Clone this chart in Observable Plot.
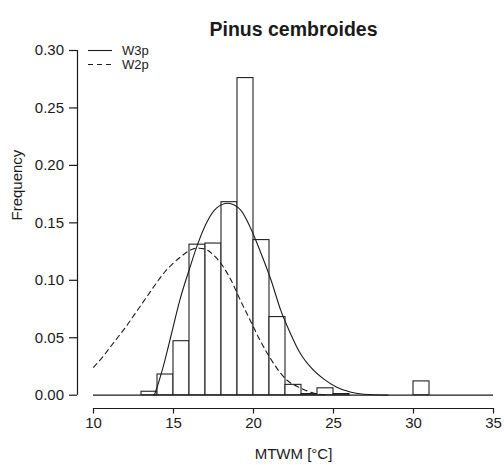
<!DOCTYPE html>
<html>
<head>
<meta charset="utf-8">
<script src="https://cdn.jsdelivr.net/npm/d3@7"></script>
<script src="https://cdn.jsdelivr.net/npm/@observablehq/plot@0.6"></script>
<style>
  html, body { margin: 0; padding: 0; background: #fff; }
  #chart { width: 504px; height: 465px; }
</style>
</head>
<body>
<div id="chart"></div>
<script>
const title = "Pinus cembroides";
const xLabel = "MTWM [°C]";
const yLabel = "Frequency";
const xTicks = [10, 15, 20, 25, 30, 35];
const yTicks = [0, 0.05, 0.10, 0.15, 0.20, 0.25, 0.30];

// Histogram bins (1 °C wide), left edges and relative frequencies
const binStart = [13, 14, 15, 16, 17, 18, 19, 20, 21, 22, 23, 24, 25, 26, 27, 28, 29, 30];
const binFreq  = [0.003, 0.018, 0.047, 0.131, 0.132, 0.168, 0.276, 0.135, 0.068, 0.009, 0.001, 0.006, 0.001, 0, 0, 0, 0, 0.012];

// W3p (solid) fitted curve
const w3pX = [13.8, 14.0, 14.4, 14.9, 15.4, 16.0, 16.5, 17.1, 17.7, 18.4, 19.2, 19.8, 20.4, 21.1, 21.7, 22.3, 22.9, 23.6, 24.4, 25.2, 26.1, 26.9, 28.4];
const w3pY = [0, 0.008, 0.027, 0.055, 0.083, 0.110, 0.131, 0.151, 0.163, 0.167, 0.161, 0.146, 0.126, 0.100, 0.074, 0.054, 0.037, 0.024, 0.014, 0.007, 0.0026, 0.0008, 0.0001];

// W2p (dashed) fitted curve
const w2pX = [10, 10.5, 11, 11.5, 12, 12.5, 13, 13.5, 14, 14.5, 15, 15.5, 16, 16.5, 17, 17.5, 18, 18.6, 19.2, 19.8, 20.4, 21.1, 21.7, 22.1, 22.9, 23.8, 24.6];
const w2pY = [0.0243, 0.032, 0.041, 0.050, 0.059, 0.069, 0.079, 0.089, 0.099, 0.108, 0.115, 0.121, 0.126, 0.128, 0.127, 0.122, 0.114, 0.100, 0.082, 0.065, 0.048, 0.031, 0.019, 0.013, 0.0065, 0.0017, 0.0003];

const legendLabels = ["W3p", "W2p"];

const bins = binStart.map((s, i) => ({x1: s, x2: s + 1, y: binFreq[i]}));
const w3p = w3pX.map((x, i) => ({x, y: w3pY[i]}));
const w2p = w2pX.map((x, i) => ({x, y: w2pY[i]}));

const font = "'Liberation Sans', Arial, Helvetica, sans-serif";
const ink = "#1a1a1a";

const plot = Plot.plot({
  width: 504,
  height: 465,
  marginLeft: 77,
  marginRight: 11,
  marginTop: 50,
  marginBottom: 57,
  style: {fontFamily: font, fontSize: "15px", color: ink, background: "#fff"},
  x: {domain: [10, 35], range: [93, 493]},
  y: {domain: [0, 0.30], range: [394.7, 50]},
  marks: [
    Plot.ruleY([0], {x1: xTicks[0], x2: xTicks[xTicks.length - 1], stroke: ink, strokeWidth: 1.2}),
    Plot.rect(bins, {x1: "x1", x2: "x2", y1: 0, y2: "y", fill: "white", stroke: "#222", strokeWidth: 1.1}),
    Plot.line(w2p, {x: "x", y: "y", stroke: ink, strokeWidth: 1.1, strokeDasharray: "5,4", curve: "monotone-x"}),
    Plot.line(w3p, {x: "x", y: "y", stroke: ink, strokeWidth: 1.1, curve: "monotone-x"}),
    // axis lines (R style, offset from the data region)
    Plot.ruleY([0], {x1: xTicks[0], x2: xTicks[xTicks.length - 1], dy: 13.3, stroke: ink, strokeWidth: 1.2}),
    Plot.ruleX([xTicks[0]], {y1: yTicks[0], y2: yTicks[yTicks.length - 1], dx: -16, stroke: ink, strokeWidth: 1.2}),
    Plot.axisX({ticks: xTicks, tickSize: 5.5, tickPadding: 3.5, tickFormat: d3.format("d"), stroke: ink, strokeWidth: 1.2, fontSize: 15, fill: ink, label: null}),
    Plot.axisY({ticks: yTicks, tickSize: 8, tickPadding: 5.5, tickFormat: d3.format(".2f"), stroke: ink, strokeWidth: 1.2, fontSize: 15, fill: ink, label: null}),
    Plot.text([xLabel], {frameAnchor: "bottom", dx: 8, dy: 50, fontSize: 15, fill: ink}),
    Plot.text([yLabel], {frameAnchor: "left", dx: -60, dy: -9, rotate: -90, fontSize: 15, fill: ink}),
    Plot.text([title], {frameAnchor: "top", dx: 8, dy: -28, fontSize: 19.5, fontWeight: "bold", fill: ink})
  ]
});

document.getElementById("chart").appendChild(plot);

// legend (top-left, inside plot area)
const svg = d3.select(plot);
const lg = svg.append("g")
  .attr("font-family", font).attr("font-size", 13).attr("fill", ink)
  .attr("text-anchor", "start");
legendLabels.forEach((lab, i) => {
  const yy = 50.5 + i * 14;
  lg.append("line")
    .attr("x1", 88).attr("x2", 112).attr("y1", yy).attr("y2", yy)
    .attr("stroke", ink).attr("stroke-width", 1.1)
    .attr("stroke-dasharray", i === 1 ? "5,4" : null);
  lg.append("text").attr("x", 122).attr("y", yy).attr("dy", "0.35em")
    .attr("text-anchor", "start").text(lab);
});
</script>
</body>
</html>
